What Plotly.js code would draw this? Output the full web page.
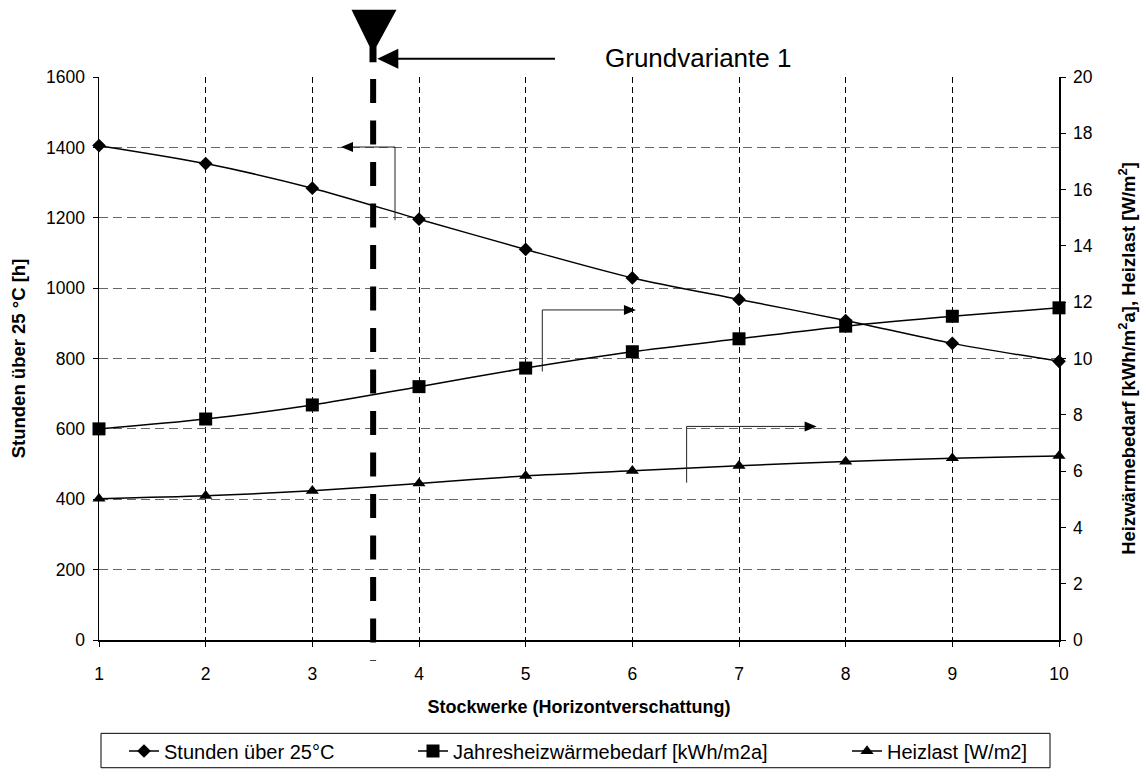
<!DOCTYPE html>
<html>
<head>
<meta charset="utf-8">
<script src="https://cdn.plot.ly/plotly-3.0.1.min.js"></script>
<style>
  html, body { margin: 0; padding: 0; background: #fff; }
  #chart { width: 1147px; height: 782px; }
</style>
</head>
<body>
<div id="chart"></div>
<script>
// Floors (horizon shading) on the x axis
const stockwerke = [1, 2, 3, 4, 5, 6, 7, 8, 9, 10];
// Hours above 25 °C (left axis)
const stundenUeber25 = [1405, 1354, 1284, 1196, 1110, 1029, 968, 908, 843, 792];
// Annual heating demand, kWh/m2a (right axis)
const jahresheizwaermebedarf = [7.5, 7.85, 8.35, 9.0, 9.66, 10.24, 10.7, 11.15, 11.5, 11.8];
// Heating load, W/m2 (right axis)
const heizlast = [5.02, 5.12, 5.3, 5.56, 5.83, 6.01, 6.19, 6.34, 6.46, 6.54];

const seriesNames = ['Stunden über 25°C', 'Jahresheizwärmebedarf [kWh/m2a]', 'Heizlast [W/m2]'];
const grundvarianteX = 3.57;   // position of base variant 1 between floor 3 and 4

const FONT = 'Liberation Sans, Arial, sans-serif';

const lineStyle = { color: '#000', width: 1.5, shape: 'spline', smoothing: 0.8 };

const traces = [
  {
    x: stockwerke, y: stundenUeber25, name: seriesNames[0], yaxis: 'y',
    mode: 'lines+markers', line: lineStyle, cliponaxis: false,
    marker: { symbol: 'diamond', size: 10.5, color: '#000' },
    legend: 'legend'
  },
  {
    x: stockwerke, y: jahresheizwaermebedarf, name: seriesNames[1], yaxis: 'y2',
    mode: 'lines+markers', line: lineStyle, cliponaxis: false,
    marker: { symbol: 'square', size: 13, color: '#000' },
    legend: 'legend2'
  },
  {
    x: stockwerke, y: heizlast, name: seriesNames[2], yaxis: 'y2',
    mode: 'lines+markers', line: lineStyle, cliponaxis: false,
    marker: { symbol: 'triangle-up', size: 11.5, color: '#000' },
    legend: 'legend3'
  }
];

// Plot frame in pixels (used to place decorations outside the axes)
const W = 1147, H = 782, L = 99, R = 88, T = 77, B = 132;
const plotH = H - T - B;
const plotW = W - L - R;
const py = p => (H - B - p) / plotH;         // pixel row -> paper y
const px = p => (p - L) / plotW;             // pixel col -> paper x
const dx = p => 1 + (p - L) / (plotW / 9);   // pixel col -> data x

const legendFont = { family: FONT, size: 20, color: '#000' };
const legendBase = {
  orientation: 'h', yanchor: 'middle', xanchor: 'left', y: py(763),
  bgcolor: 'rgba(0,0,0,0)', borderwidth: 0, font: legendFont,
  itemwidth: 30, tracegroupgap: 0
};

// arrowhead drawn in pixels around an anchor point; dir = -1 points left, +1 right
function arrowHead(xref, yref, xa, ya, dir, len, half) {
  const b = -dir * len;
  return {
    type: 'path', xref: xref, yref: yref, xsizemode: 'pixel', ysizemode: 'pixel',
    xanchor: xa, yanchor: ya, path: `M0,0 L${b},${half} L${b},${-half} Z`,
    fillcolor: '#000', line: { width: 0 }
  };
}
// bent callout line: up from the curve, then across towards the axis
function callout(x0, yLow, yHigh, xTip) {
  return {
    type: 'path', xref: 'x', yref: 'y',
    path: `M${x0},${yLow} L${x0},${yHigh} L${xTip},${yHigh}`,
    line: { color: '#222', width: 1 }
  };
}

const layout = {
  width: W, height: H,
  margin: { l: L, r: R, t: T, b: B, pad: 0 },
  paper_bgcolor: '#fff', plot_bgcolor: '#fff',
  font: { family: FONT, size: 17.5, color: '#000' },
  showlegend: true,
  legend: Object.assign({}, legendBase, { x: px(124) }),
  legend2: Object.assign({}, legendBase, { x: px(413) }),
  legend3: Object.assign({}, legendBase, { x: px(847) }),
  xaxis: {
    range: [1, 10], dtick: 1, tick0: 1, automargin: false,
    showline: true, linecolor: '#000', linewidth: 1.5,
    ticks: 'outside', ticklen: 5, tickcolor: '#000', ticklabelstandoff: 12,
    showgrid: true, gridcolor: '#000', gridwidth: 1, griddash: '6px,4px',
    zeroline: false,
    tickfont: { family: FONT, size: 17.5 },
    title: { text: '<b>Stockwerke (Horizontverschattung)</b>', font: { family: FONT, size: 18 }, standoff: 18 }
  },
  yaxis: {
    range: [0, 1600], dtick: 200, automargin: false,
    showline: true, linecolor: '#000', linewidth: 1.5,
    ticks: 'outside', ticklen: 5, tickcolor: '#000', ticklabelstandoff: 4,
    showgrid: true, gridcolor: '#666', gridwidth: 1, griddash: '9px,5px',
    zeroline: false,
    tickfont: { family: FONT, size: 17.5 },
    title: { text: '<b>Stunden über 25 °C [h]</b>', font: { family: FONT, size: 18.5 }, standoff: 15 }
  },
  yaxis2: {
    range: [0, 20], dtick: 2, overlaying: 'y', side: 'right', automargin: false,
    showline: true, linecolor: '#000', linewidth: 1.5,
    ticks: 'outside', ticklen: 5, tickcolor: '#000', ticklabelstandoff: 4,
    showgrid: false, zeroline: false,
    tickfont: { family: FONT, size: 17.5 },
    title: { text: '<b>Heizwärmebedarf [kWh/m<sup>2</sup>a], Heizlast [W/m<sup>2</sup>]</b>', font: { family: FONT, size: 18.5 }, standoff: 30 }
  },
  shapes: [
    // base variant marker line
    { type: 'line', xref: 'x', yref: 'paper', x0: grundvarianteX, x1: grundvarianteX,
      y0: py(79), y1: py(671), line: { color: '#000', width: 6, dash: '24px,17.5px' } },
    // inverted triangle with stem on top of the marker line
    { type: 'path', xref: 'x', yref: 'paper', fillcolor: '#000', line: { width: 0 },
      path: `M${dx(351.5)},${py(8.5)} L${dx(396.5)},${py(8.5)} L${dx(376.5)},${py(46)} L${dx(376.5)},${py(62)} L${dx(369.5)},${py(62)} L${dx(369.5)},${py(46)} Z` },
    // arrow pointing at the base variant
    { type: 'line', xref: 'x', yref: 'paper', x0: dx(390), x1: dx(555), y0: py(58.3), y1: py(58.3),
      line: { color: '#000', width: 2 } },
    arrowHead('x', 'paper', dx(377.3), py(58.3), -1, 21, 10),
    // callouts linking each curve to its axis
    callout(3.775, 1193, 1401, 3.32),
    arrowHead('x', 'y', 3.269, 1401, -1, 12, 5),
    callout(5.156, 763, 938, 5.98),
    arrowHead('x', 'y', 6.034, 938, 1, 12, 5),
    callout(6.509, 447, 607, 7.67),
    arrowHead('x', 'y', 7.728, 607, 1, 12, 5),
    // legend frame
    { type: 'rect', xref: 'paper', yref: 'paper', x0: px(101), x1: px(1050), y0: py(745), y1: py(780),
      line: { color: '#000', width: 1 }, fillcolor: 'rgba(0,0,0,0)' }
  ],
  annotations: [
    { xref: 'paper', yref: 'paper', x: px(698), y: py(58), text: 'Grundvariante 1', showarrow: false,
      font: { family: FONT, size: 26, color: '#000' }, xanchor: 'center', yanchor: 'middle' }
  ]
};

Plotly.newPlot('chart', traces, layout, { displayModeBar: false, staticPlot: true });
</script>
</body>
</html>
